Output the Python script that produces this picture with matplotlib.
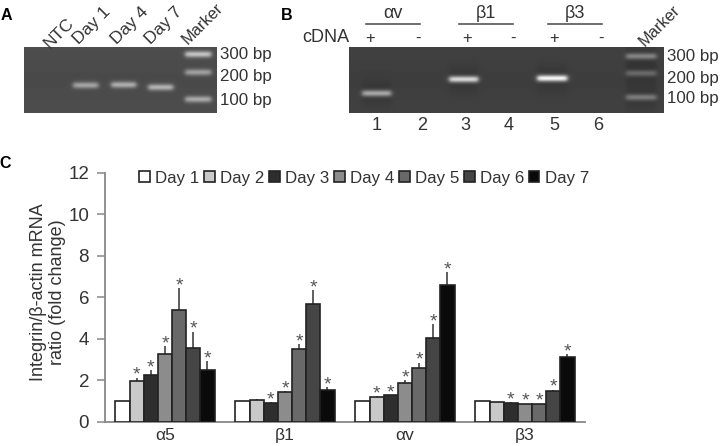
import numpy as np
import matplotlib as mpl
import matplotlib.pyplot as plt
mpl.use('Agg')
plt.rcParams['font.family'] = ['Liberation Sans', 'DejaVu Sans']

days = ['Day 1', 'Day 2', 'Day 3', 'Day 4', 'Day 5', 'Day 6', 'Day 7']
genes = ['α5', 'β1', 'αv', 'β3']
colors = ['#ffffff', '#c9c9c9', '#2e2e2e', '#8c8c8c', '#696969', '#454545', '#0a0a0a']

a5 = [1.0, 1.97, 2.27, 3.27, 5.38, 3.57, 2.47]
b1 = [1.0, 1.05, 0.9, 1.43, 3.48, 5.65, 1.55]
av = [1.0, 1.2, 1.27, 1.85, 2.6, 4.02, 6.6]
b3 = [1.0, 0.95, 0.9, 0.85, 0.85, 1.48, 3.1]

a5_top = [1.0, 2.12, 2.49, 3.65, 6.43, 4.34, 2.91]
b1_top = [1.0, 1.08, 0.95, 1.48, 3.75, 6.35, 1.65]
av_top = [1.0, 1.23, 1.3, 2.0, 2.85, 4.7, 7.2]
b3_top = [1.0, 0.96, 0.93, 0.87, 0.87, 1.55, 3.25]

a5_star = [0, 1, 1, 1, 1, 1, 1]
b1_star = [0, 0, 1, 1, 1, 1, 1]
av_star = [0, 1, 1, 1, 1, 1, 1]
b3_star = [0, 0, 1, 1, 1, 1, 1]

# gel bands: x0, x1, y, brightness
gel_a_bands = [(73, 98, 85, 90), (111, 136, 84.5, 100), (148, 173, 87, 105),
               (185, 211, 54, 120), (185, 211, 72, 85), (185, 211, 99, 95)]
gel_b_bands = [(362, 391, 93, 115), (449, 478, 79, 165), (537, 567, 78, 195),
               (626, 656, 56, 80), (626, 656, 73, 55), (626, 656, 97, 70)]

text_col = '#333333'

def draw_gel(ax, x0, x1, y0, y1, bands, base, halo=0):
    xs = np.arange(x0, x1, 0.5)
    ys = np.arange(y0, y1, 0.5)
    X, Y = np.meshgrid(xs, ys)
    img = np.full(X.shape, float(base))
    # soft vignette, edges a bit lighter than the middle
    img += 6 * np.abs(Y - (y0 + y1) / 2) / (y1 - y0)
    for bx0, bx1, by, amp in bands:
        sx = 0.5 * (np.tanh((X - bx0) / 2.5) - np.tanh((X - bx1) / 2.5))
        img += amp * sx * np.exp(-((Y - by) / 3.2) ** 2)
        if halo:
            img -= halo * sx * np.exp(-((Y - by) / 12) ** 2)
    ax.imshow(img, cmap='gray', vmin=0, vmax=255, extent=[x0, x1, y1, y0],
              aspect='auto', interpolation='bilinear')

fig = plt.figure(figsize=(7.2, 4.46), dpi=100)

# overlay in pixel coordinates for the gel panels and labels
bg = fig.add_axes([0, 0, 1, 1])
draw_gel(bg, 24, 217, 47, 113, gel_a_bands, 74)
draw_gel(bg, 349, 664, 47, 113, gel_b_bands, 62, halo=10)
bg.set_xlim(0, 720)
bg.set_ylim(446, 0)
bg.axis('off')

def label(x, y, s, size=13, **kw):
    kw.setdefault('color', text_col)
    bg.text(x, y, s, fontsize=size, ha=kw.pop('ha', 'center'), va='center', **kw)

for x, y, s in [(6, 15, 'A'), (287, 15, 'B'), (5, 163, 'C')]:
    label(x, y, s, size=11.5, fontweight='bold', color='black')

for x, y, s in [(59, 33, 'NTC'), (92, 26, 'Day 1'), (130, 26, 'Day 4'), (164, 26, 'Day 7')]:
    label(x, y, s, size=12.5, rotation=45, rotation_mode='anchor')
label(203, 24, 'Marker', size=11.8, rotation=45, rotation_mode='anchor')
for y, s in [(55, '300 bp'), (77, '200 bp'), (100, '100 bp')]:
    label(220, y, s, size=12.2, ha='left')

for x, s in [(393, 'αv'), (486, 'β1'), (575, 'β3')]:
    label(x, 13, s)
    bg.plot([x - 27, x + 27], [24, 24], color='#555555', lw=1.2)
label(326, 38, 'cDNA')
for x, s in [(370, '+'), (418, '-'), (467, '+'), (513, '-'), (554, '+'), (601, '-')]:
    label(x, 38, s, size=12)
for x, s in zip([377, 422, 465, 509, 554, 598], ['1', '2', '3', '4', '5', '6']):
    label(x, 126, s)
label(660, 26, 'Marker', size=11.8, rotation=45, rotation_mode='anchor')
for y, s in [(56, '300 bp'), (78, '200 bp'), (98, '100 bp')]:
    label(667, y, s, size=12.2, ha='left')
label(48, 292, 'Integrin/β-actin mRNA\nratio (fold change)', rotation=90, linespacing=1.1)

# bar chart
ax = fig.add_axes([105 / 720, (446 - 421.7) / 446, 480 / 720, 249 / 446])
ax.patch.set_alpha(0)
values = np.array([a5, b1, av, b3])
tops = np.array([a5_top, b1_top, av_top, b3_top])
stars = np.array([a5_star, b1_star, av_star, b3_star])
width = 0.118
for j, day in enumerate(days):
    pos = np.arange(4) + 0.5 + (j - 3) * width
    ax.bar(pos, values[:, j], width, color=colors[j], edgecolor='#222222', lw=1.2, label=day, zorder=3)
    ax.errorbar(pos, values[:, j], yerr=[np.zeros(4), tops[:, j] - values[:, j]],
                fmt='none', ecolor='#333333', elinewidth=1.1, capsize=0, zorder=2)
    for i in range(4):
        if stars[i, j]:
            ax.annotate('*', (pos[i], tops[i, j]), xytext=(0, -4.5), textcoords='offset points',
                        ha='center', va='bottom', fontsize=14, color='#555555')

ax.set_xlim(0, 4)
ax.set_ylim(0, 12)
ax.set_yticks(range(0, 13, 2))
ax.set_xticks(np.arange(4) + 0.5)
ax.set_xticklabels(genes)
ax.tick_params(axis='x', length=0, pad=4.5, labelsize=12.5, labelcolor=text_col)
ax.tick_params(axis='y', length=5.5, width=1.1, color='#888888', pad=6, labelsize=13.5, labelcolor=text_col)
for side in ['top', 'right']:
    ax.spines[side].set_visible(False)
for side in ['left', 'bottom']:
    ax.spines[side].set_color('#888888')
    ax.spines[side].set_linewidth(1.3)

ax.legend(loc='center', bbox_to_anchor=((364 - 105) / 480, (421.7 - 178) / 249), ncol=7, frameon=False,
          fontsize=12.2, handlelength=0.62, handleheight=0.62, handletextpad=0.3, columnspacing=0.3,
          labelcolor=text_col, borderpad=0, borderaxespad=0)

plt.savefig('out.png', dpi=100)
plt.close()
